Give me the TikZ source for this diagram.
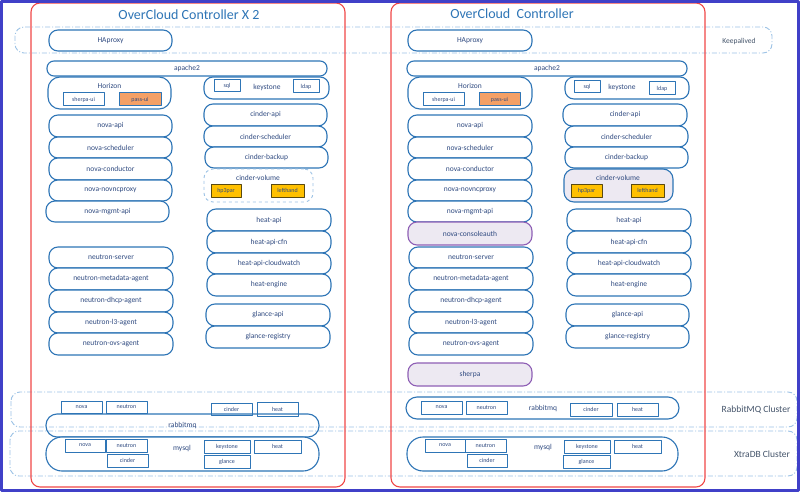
\documentclass[tikz,border=0pt]{standalone}
\usepackage{fontspec}
\setmainfont{Carlito}
\usepackage{tikz}

\definecolor{boxblue}{HTML}{2E75B6}
\definecolor{txtblue}{HTML}{2F4A80}
\definecolor{titleblue}{HTML}{2E75B6}
\definecolor{dashblue}{HTML}{9DC3E6}
\definecolor{clustertxt}{HTML}{44546A}
\definecolor{ctrlred}{HTML}{F04848}
\definecolor{frameblue}{HTML}{4040C8}
\definecolor{purp}{HTML}{8E5FB5}
\definecolor{lav}{HTML}{EDE9F2}
\definecolor{gold}{HTML}{FFC000}
\definecolor{golddark}{HTML}{5A4A10}
\definecolor{orng}{HTML}{F4A066}

% box from its corners: style, name, x1, y1, x2, y2, text
\newcommand{\boxat}[7]{%
  \node[#1, minimum width={#5-#3}, minimum height={#6-#4}] (#2) at ({(#3+#5)/2},{(#4+#6)/2}) {#7};}

\begin{document}
\begin{tikzpicture}[x=1pt, y=-1pt, line join=round,
    svc/.style={draw=boxblue, line width=1.1pt, rounded corners=9pt, fill=white, inner sep=0pt,
      font=\fontsize{7.5}{8}\selectfont, text=txtblue},
    purplesvc/.style={svc, draw=purp, fill=lav},
    tag/.style={draw=boxblue, line width=1pt, fill=white, inner sep=0pt,
      font=\fontsize{6}{6.5}\selectfont, text=txtblue},
    orangetag/.style={tag, fill=orng},
    goldtag/.style={tag, draw=golddark, fill=gold},
    cluster/.style={draw=dashblue, line width=0.9pt, rounded corners=9pt,
      dash pattern=on 5pt off 2pt on 1pt off 2pt},
    clusterlbl/.style={font=\fontsize{9.5}{10}\selectfont, text=clustertxt},
    inlbl/.style={font=\fontsize{7.5}{8}\selectfont, text=txtblue, inner sep=0pt},
    ctrl/.style={draw=ctrlred, line width=1.1pt, rounded corners=9pt},
    title/.style={font=\fontsize{14}{15}\selectfont, text=titleblue}]
  \useasboundingbox (0,0) rectangle (800,492);
  \fill[white] (0,0) rectangle (800,492);

  % clusters
  \draw[cluster] (15,27) rectangle (772,53);
  \node[clusterlbl, font=\fontsize{7.5}{8}\selectfont] (keepalived) at (739,42) {Keepalived};
  \draw[cluster] (11,392) rectangle (797,427);
  \node[clusterlbl] (rabbitcluster) at (756,410) {RabbitMQ Cluster};
  \draw[cluster] (10,431) rectangle (797,476);
  \node[clusterlbl] (xtradb) at (762,454) {XtraDB Cluster};

  % controllers
  \draw[ctrl] (31,3) rectangle (345,487);
  \node[title] (titleL) at (189,15) {OverCloud Controller X 2};
  \draw[ctrl] (391,3) rectangle (705,487);
  \node[title] (titleR) at (512,14) {OverCloud \ Controller};

  % Left controller
  \boxat{svc}{haproxyL}{49}{30}{172}{51}{HAproxy}
  \boxat{svc, rounded corners=7pt}{apacheL}{47}{61}{327}{76}{apache2}
  \boxat{svc, rounded corners=12pt}{horizonL}{48}{77}{171}{109}{}
  \node[inlbl] (horizonlblL) at (109.5,86) {Horizon};
  \boxat{tag}{sherpauiL}{63}{93}{104}{106}{sherpa-ui}
  \boxat{orangetag}{passuiL}{119}{93}{161}{106}{pass-ui}
  \boxat{svc}{keystoneL}{204}{77}{329}{99}{}
  \node[inlbl] (keystonelblL) at (267,88) {keystone};
  \boxat{tag}{sqlL}{214}{80}{240}{92}{sql}
  \boxat{tag}{ldapL}{293}{80}{319}{93}{ldap}

  \boxat{svc}{novaapiL}{49}{115}{172}{137}{nova-api}
  \boxat{svc}{novaschedL}{49}{137}{172}{158}{nova-scheduler}
  \boxat{svc}{novacondL}{49}{158}{172}{180}{nova-conductor}
  \boxat{svc}{novavncL}{49}{180}{172}{201}{nova-novncproxy}
  \boxat{svc}{novamgmtL}{46}{201}{169}{222}{nova-mgmt-api}

  \boxat{svc}{cinderapiL}{204}{104}{327}{126}{cinder-api}
  \boxat{svc}{cinderschedL}{204}{126}{327}{147}{cinder-scheduler}
  \boxat{svc}{cinderbackL}{205}{147}{328}{168}{cinder-backup}
  \boxat{svc, draw=dashblue, dashed, line width=0.9pt}{cindervolL}{204}{169}{313}{202}{}
  \node[inlbl] (cindervollblL) at (258,178) {cinder-volume};
  \boxat{goldtag}{hp3parL}{211}{184}{241}{197}{hp3par}
  \boxat{goldtag}{lefthandL}{271}{184}{304}{197}{lefthand}

  \boxat{svc}{heatapiL}{207}{209}{331}{231}{heat-api}
  \boxat{svc}{heatcfnL}{207}{231}{331}{253}{heat-api-cfn}
  \boxat{svc}{heatcwL}{207}{253}{331}{274}{heat-api-cloudwatch}
  \boxat{svc}{heatengL}{207}{274}{331}{296}{heat-engine}
  \boxat{svc}{glanceapiL}{206}{304}{330}{326}{glance-api}
  \boxat{svc}{glanceregL}{206}{326}{330}{348}{glance-registry}

  \boxat{svc}{neutronsrvL}{49}{247}{173}{268}{neutron-server}
  \boxat{svc}{neutronmetaL}{49}{268}{173}{290}{neutron-metadata-agent}
  \boxat{svc}{neutrondhcpL}{49}{290}{173}{312}{neutron-dhcp-agent}
  \boxat{svc}{neutronlthreeL}{49}{312}{173}{333}{neutron-l3-agent}
  \boxat{svc}{neutronovsL}{49}{333}{173}{355}{neutron-ovs-agent}

  \boxat{tag}{rmqnovaL}{61}{401}{102}{413}{nova}
  \boxat{tag}{rmqneutronL}{106}{401}{147}{413}{neutron}
  \boxat{tag}{rmqcinderL}{211}{403}{252}{415}{cinder}
  \boxat{tag}{rmqheatL}{257}{402}{298}{416}{heat}
  \boxat{svc, fill=none, rounded corners=11pt}{rabbitmqL}{46}{414}{319}{437}{rabbitmq}

  \boxat{svc, rounded corners=16pt}{mysqlL}{46}{437}{319}{471}{}
  \node[inlbl] (mysqllblL) at (182,448) {mysql};
  \boxat{tag}{sqlnovaL}{65}{439}{105}{452}{nova}
  \boxat{tag}{sqlneutronL}{106}{439}{147}{452}{neutron}
  \boxat{tag}{sqlcinderL}{107}{454}{148}{467}{cinder}
  \boxat{tag}{sqlkeystoneL}{204}{440}{250}{453}{keystone}
  \boxat{tag}{sqlheatL}{254}{440}{301}{453}{heat}
  \boxat{tag}{sqlglanceL}{204}{455}{250}{468}{glance}

  % Right controller
  \boxat{svc}{haproxyR}{408}{30}{532}{51}{HAproxy}
  \boxat{svc, rounded corners=7pt}{apacheR}{407}{61}{687}{76}{apache2}
  \boxat{svc, rounded corners=12pt}{horizonR}{408}{77}{532}{109}{}
  \node[inlbl] (horizonlblR) at (470,86) {Horizon};
  \boxat{tag}{sherpauiR}{423}{93}{464}{106}{sherpa-ui}
  \boxat{orangetag}{passuiR}{479}{93}{520}{106}{pass-ui}
  \boxat{svc}{keystoneR}{565}{77}{689}{99}{}
  \node[inlbl] (keystonelblR) at (622,88) {keystone};
  \boxat{tag}{sqlR}{574}{81}{600}{93}{sql}
  \boxat{tag}{ldapR}{649}{82}{675}{95}{ldap}

  \boxat{svc}{novaapiR}{408}{115}{532}{137}{nova-api}
  \boxat{svc}{novaschedR}{408}{137}{532}{158}{nova-scheduler}
  \boxat{svc}{novacondR}{408}{158}{532}{180}{nova-conductor}
  \boxat{svc}{novavncR}{408}{180}{532}{201}{nova-novncproxy}
  \boxat{svc}{novamgmtR}{408}{201}{532}{222}{nova-mgmt-api}
  \boxat{purplesvc}{novaconsR}{408}{222}{532}{245}{nova-consoleauth}

  \boxat{svc}{cinderapiR}{563}{104}{687}{126}{cinder-api}
  \boxat{svc}{cinderschedR}{565}{126}{688}{147}{cinder-scheduler}
  \boxat{svc}{cinderbackR}{565}{147}{688}{168}{cinder-backup}
  \boxat{svc, fill=lav, rounded corners=10pt}{cindervolR}{564}{169}{673}{202}{}
  \node[inlbl] (cindervollblR) at (618,178) {cinder-volume};
  \boxat{goldtag}{hp3parR}{571}{184}{602}{197}{hp3par}
  \boxat{goldtag}{lefthandR}{631}{184}{664}{197}{lefthand}

  \boxat{svc}{heatapiR}{567}{209}{691}{231}{heat-api}
  \boxat{svc}{heatcfnR}{567}{231}{691}{253}{heat-api-cfn}
  \boxat{svc}{heatcwR}{567}{253}{691}{274}{heat-api-cloudwatch}
  \boxat{svc}{heatengR}{567}{274}{691}{296}{heat-engine}
  \boxat{svc}{glanceapiR}{566}{304}{689}{326}{glance-api}
  \boxat{svc}{glanceregR}{566}{326}{689}{348}{glance-registry}

  \boxat{svc}{neutronsrvR}{409}{247}{533}{268}{neutron-server}
  \boxat{svc}{neutronmetaR}{409}{268}{533}{290}{neutron-metadata-agent}
  \boxat{svc}{neutrondhcpR}{409}{290}{533}{312}{neutron-dhcp-agent}
  \boxat{svc}{neutronlthreeR}{409}{312}{533}{333}{neutron-l3-agent}
  \boxat{svc}{neutronovsR}{409}{333}{533}{355}{neutron-ovs-agent}
  \boxat{purplesvc}{sherpaR}{408}{363}{532}{386}{sherpa}

  \boxat{svc, rounded corners=11pt}{rabbitmqR}{406}{397}{679}{419}{}
  \node[inlbl] (rabbitmqlblR) at (543,408) {rabbitmq};
  \boxat{tag}{rmqnovaR}{421}{401}{462}{414}{nova}
  \boxat{tag}{rmqneutronR}{466}{401}{507}{414}{neutron}
  \boxat{tag}{rmqcinderR}{570}{403}{612}{416}{cinder}
  \boxat{tag}{rmqheatR}{617}{403}{658}{416}{heat}

  \boxat{svc, rounded corners=16pt}{mysqlR}{407}{437}{678}{471}{}
  \node[inlbl] (mysqllblR) at (543,447) {mysql};
  \boxat{tag}{sqlnovaR}{425}{439}{465}{452}{nova}
  \boxat{tag}{sqlneutronR}{465}{439}{506}{452}{neutron}
  \boxat{tag}{sqlcinderR}{467}{454}{507}{467}{cinder}
  \boxat{tag}{sqlkeystoneR}{564}{440}{610}{453}{keystone}
  \boxat{tag}{sqlheatR}{614}{440}{661}{453}{heat}
  \boxat{tag}{sqlglanceR}{563}{455}{610}{468}{glance}

  % frame
  \draw[frameblue, line width=3pt] (1.5,1.5) rectangle (798.5,490.5);
\end{tikzpicture}
\end{document}
